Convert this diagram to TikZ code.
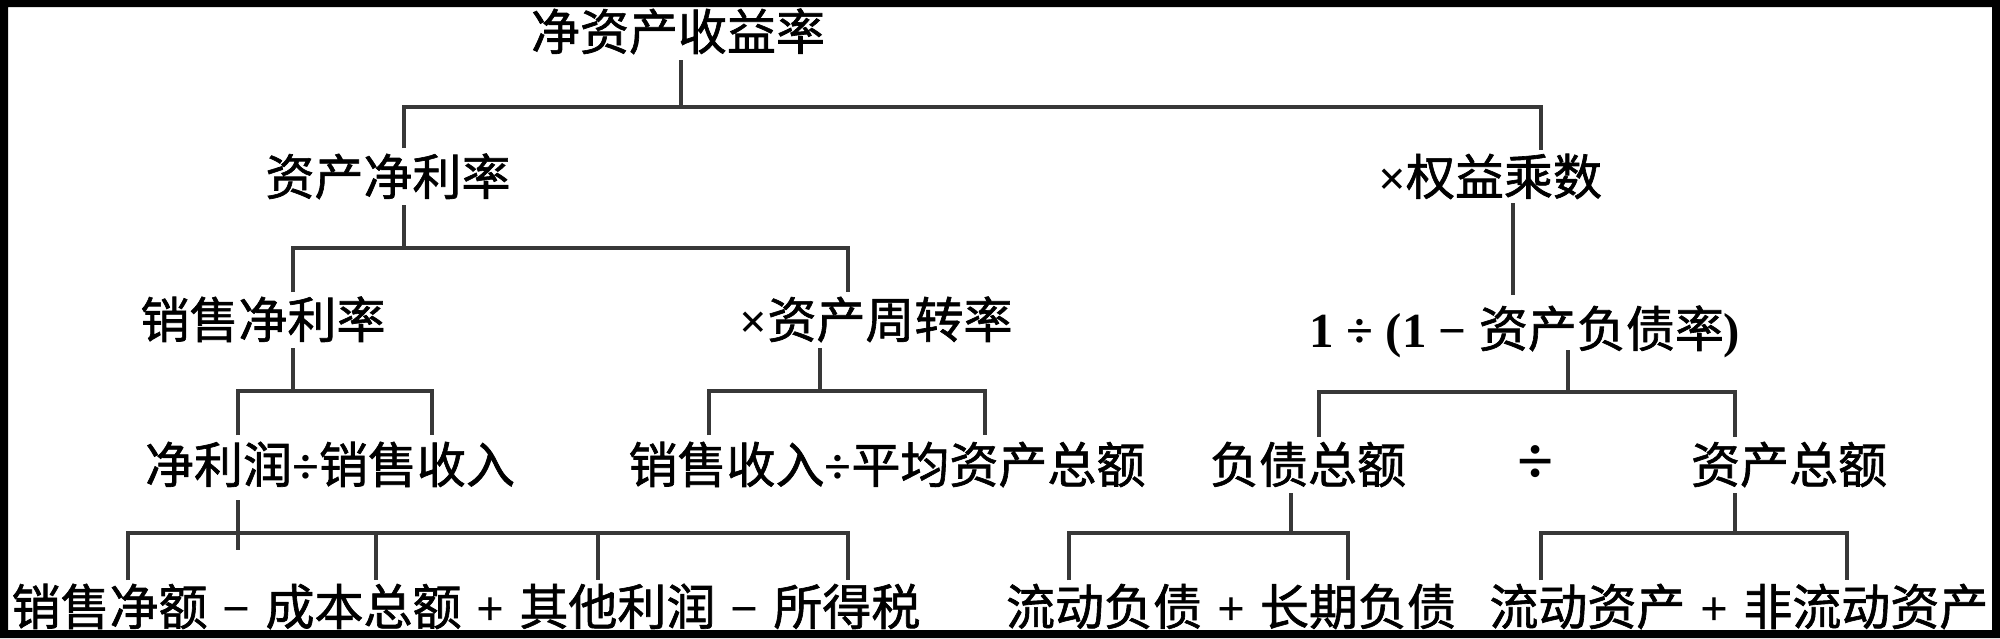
\documentclass[tikz,border=0pt]{standalone}
\usepackage{fontspec}
\setmainfont{Liberation Serif}
\newfontfamily\cjk[FakeBold=1.3]{Noto Sans CJK SC}
\newcommand\zh{\cjk\mdseries}
\newcommand\opsym[1]{\hspace{7.5pt}#1\hspace{7.5pt}}
\begin{document}
\begin{tikzpicture}[x=0.5pt,y=-0.5pt,
  lbl/.style={inner sep=0pt, anchor=base, font=\fontsize{24.5}{29}\selectfont\bfseries},
  conn/.style={draw=black!78, line width=1.6pt}]
\useasboundingbox (0,0) rectangle (2000,638);
\fill[white] (0,0) rectangle (2000,638);

% ---------- texts ----------
\node[lbl] (roe) at (678,50) {\zh 净资产收益率};
\node[lbl] (roa) at (388,195) {\zh 资产净利率};
\node[lbl] (em) at (1490,195) {×{\zh 权益乘数}};
\node[lbl] (npm) at (263,338) {\zh 销售净利率};
\node[lbl] (tat) at (876,338) {×{\zh 资产周转率}};
\node[lbl] (inv) at (1525,347) {1 ÷ (1 − {\zh 资产负债率})};
\node[lbl] (npr) at (330,483) {{\zh 净利润}÷{\zh 销售收入}};
\node[lbl] (sar) at (887,483) {{\zh 销售收入}÷{\zh 平均资产总额}};
\node[lbl] (debt) at (1308,483) {\zh 负债总额};
\node[lbl,font=\fontsize{33}{36}\selectfont\bfseries] (div) at (1536,483) {÷};
\node[lbl] (assets) at (1789,483) {\zh 资产总额};
\node[lbl] (profit) at (466,625) {{\zh 销售净额}\opsym{−}{\zh 成本总额}\opsym{+}{\zh 其他利润}\opsym{−}{\zh 所得税}};
\node[lbl] (debtsum) at (1231,625) {{\zh 流动负债}\opsym{+}{\zh 长期负债}};
\node[lbl,anchor=base west] (assetsum) at (1489,625) {{\zh 流动资产}\opsym{+}{\zh 非流动资产}};

% ---------- junction coordinates ----------
\path (681,60) coordinate (a0) (681,107) coordinate (a1)
      (404,148) coordinate (a2) (404,107) coordinate (a3)
      (1541,107) coordinate (a4) (1541,150) coordinate (a5);
\path (404,205) coordinate (b0) (404,248) coordinate (b1)
      (293,292) coordinate (b2) (293,248) coordinate (b3)
      (848,248) coordinate (b4) (848,292) coordinate (b5);
\path (1513,203) coordinate (c0) (1513,295) coordinate (c1);
\path (293,348) coordinate (d0) (293,391) coordinate (d1)
      (238,435) coordinate (d2) (238,391) coordinate (d3)
      (432,391) coordinate (d4) (432,435) coordinate (d5);
\path (820,348) coordinate (e0) (820,391) coordinate (e1)
      (709,435) coordinate (e2) (709,391) coordinate (e3)
      (985,391) coordinate (e4) (985,435) coordinate (e5);
\path (1568,350) coordinate (f0) (1568,392) coordinate (f1)
      (1319,437) coordinate (f2) (1319,392) coordinate (f3)
      (1735,392) coordinate (f4) (1735,437) coordinate (f5);
\path (238,500) coordinate (g0) (238,550) coordinate (g1)
      (128,580) coordinate (g2) (128,533) coordinate (g3)
      (848,533) coordinate (g4) (848,580) coordinate (g5)
      (376,533) coordinate (g6) (376,580) coordinate (g7)
      (598,533) coordinate (g8) (598,580) coordinate (g9);
\path (1291,493) coordinate (h0) (1291,533) coordinate (h1)
      (1069,580) coordinate (h2) (1069,533) coordinate (h3)
      (1348,533) coordinate (h4) (1348,580) coordinate (h5);
\path (1735,493) coordinate (i0) (1735,533) coordinate (i1)
      (1541,580) coordinate (i2) (1541,533) coordinate (i3)
      (1847,533) coordinate (i4) (1847,580) coordinate (i5);

% ---------- connectors ----------
\draw[conn] (a0) -- (a1);
\draw[conn] (a2) -- (a3) -- (a4) -- (a5);
\draw[conn] (b0) -- (b1);
\draw[conn] (b2) -- (b3) -- (b4) -- (b5);
\draw[conn] (c0) -- (c1);
\draw[conn] (d0) -- (d1);
\draw[conn] (d2) -- (d3) -- (d4) -- (d5);
\draw[conn] (e0) -- (e1);
\draw[conn] (e2) -- (e3) -- (e4) -- (e5);
\draw[conn] (f0) -- (f1);
\draw[conn] (f2) -- (f3) -- (f4) -- (f5);
\draw[conn] (g0) -- (g1);
\draw[conn] (g2) -- (g3) -- (g4) -- (g5);
\draw[conn] (g6) -- (g7);
\draw[conn] (g8) -- (g9);
\draw[conn] (h0) -- (h1);
\draw[conn] (h2) -- (h3) -- (h4) -- (h5);
\draw[conn] (i0) -- (i1);
\draw[conn] (i2) -- (i3) -- (i4) -- (i5);

% ---------- frame ----------
\fill[black,even odd rule] (0,0) rectangle (2000,638) (8,7) rectangle (1992,630);
\end{tikzpicture}
\end{document}
